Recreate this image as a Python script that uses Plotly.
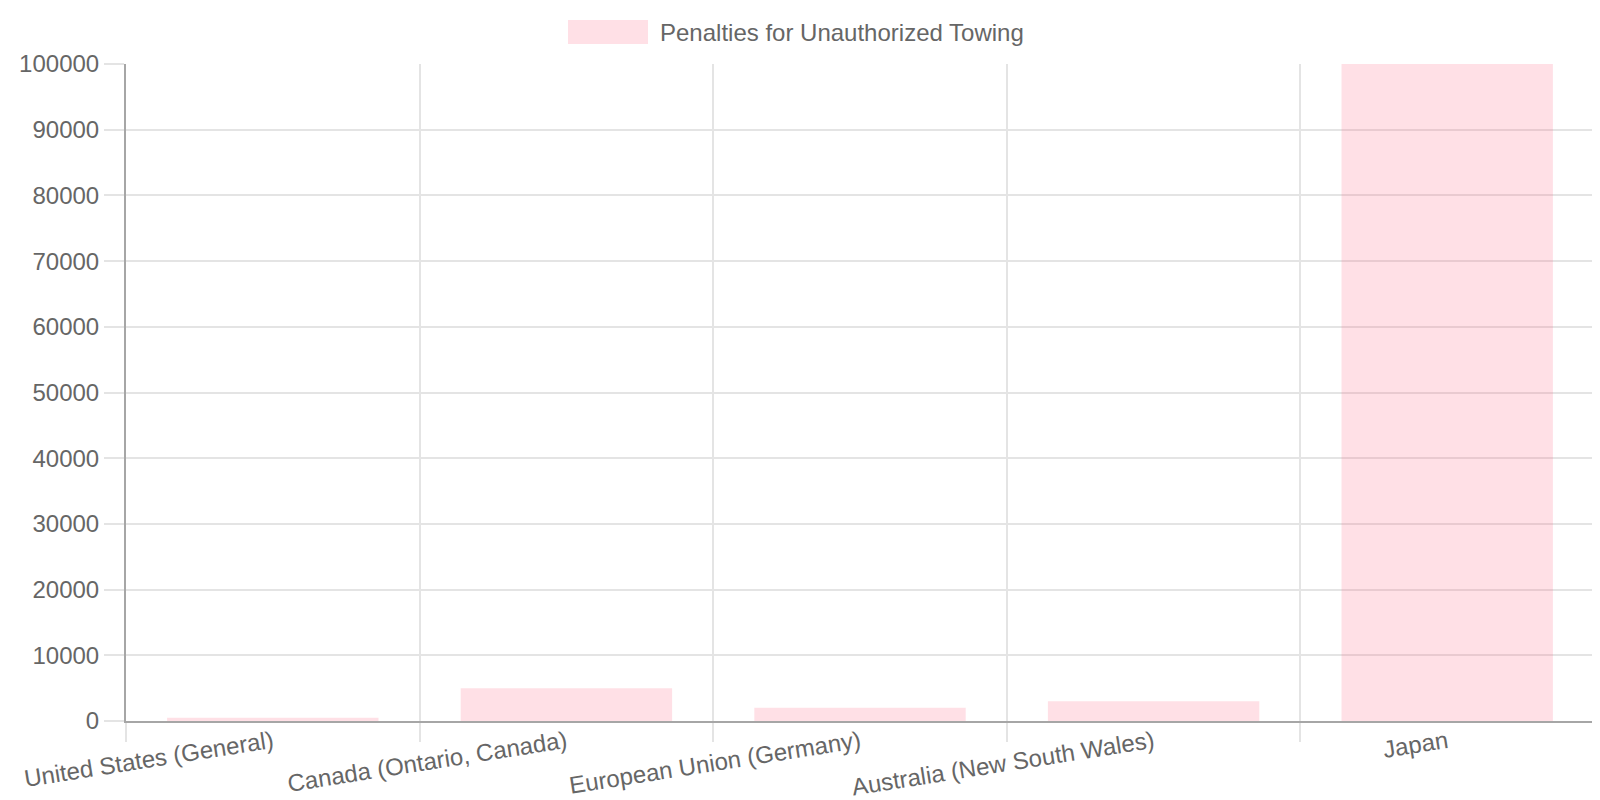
import plotly.graph_objects as go

# data
regions = [
    "United States (General)",
    "Canada (Ontario, Canada)",
    "European Union (Germany)",
    "Australia (New South Wales)",
    "Japan",
]
penalties = [500, 5000, 2000, 3000, 100000]
series_name = "Penalties for Unauthorized Towing"

W, H = 1600, 800
L, R, T, B = 118, 14, 56, 87
pw, ph = W - L - R, H - T - B

bar_fill = "rgba(255, 99, 132, 0.2)"
text_col = "#666666"
grid_col = "#e4e4e4"
axis_col = "#a6a6a6"


def px_x(x):
    return (x - L) / pw


def px_y(y):
    return (H - B - y) / ph


fig = go.Figure()
fig.add_trace(go.Bar(x=regions, y=penalties, name=series_name,
                     marker=dict(color=bar_fill, line=dict(width=0)),
                     showlegend=False))

# legend drawn by hand so the swatch matches the wide chart.js box
fig.add_shape(type="rect", xref="paper", yref="paper",
              x0=px_x(560), x1=px_x(640), y0=px_y(36), y1=px_y(12),
              fillcolor=bar_fill, line=dict(width=0))
fig.add_annotation(text=series_name, xref="paper", yref="paper",
                   x=px_x(650), y=px_y(24), xanchor="left", yanchor="middle",
                   showarrow=False, font=dict(size=24, color=text_col))

fig.update_layout(
    width=W, height=H,
    margin=dict(l=L, r=R, t=T, b=B),
    plot_bgcolor="white", paper_bgcolor="white",
    font=dict(family="Liberation Sans, Arial, sans-serif", size=24, color=text_col),
    bargap=0.28,
)
fig.update_xaxes(
    type="category", tickson="boundaries", automargin=False,
    showgrid=True, gridcolor=grid_col, gridwidth=1.6,
    showline=True, linecolor=axis_col, linewidth=2,
    ticks="outside", ticklen=19, tickcolor=grid_col, tickwidth=1.6,
    tickangle=-9, ticklabelstandoff=-4,
    tickfont=dict(size=24, color=text_col),
)
fig.update_yaxes(
    range=[0, 100000], dtick=10000, tickformat="d", automargin=False,
    showgrid=True, gridcolor=grid_col, gridwidth=1.6,
    zeroline=False,
    showline=True, linecolor=axis_col, linewidth=2,
    ticks="outside", ticklen=20, tickcolor=grid_col, tickwidth=1.6,
    tickfont=dict(size=24, color=text_col),
)

fig.write_html("out.html")
